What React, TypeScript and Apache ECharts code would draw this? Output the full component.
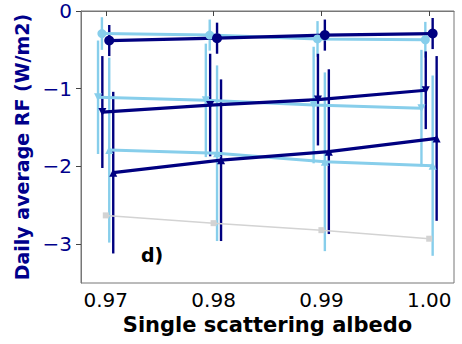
import React, { useEffect, useRef } from "react";
import * as echarts from "echarts";

// x tick positions (single scattering albedo)
const albedoTicks = [0.97, 0.98, 0.99, 1.0];
const rfTicks = [0, -1, -2, -3];

// Series: x (with the small dodge), y, error half-width
const lightCircleX = [0.96964, 0.97964, 0.98964, 0.99964];
const lightCircleY = [-0.29, -0.31, -0.36, -0.37];
const lightCircleE = [0.21, 0.2, 0.23, 0.23];

const lightDownX = [0.96928, 0.97928, 0.98928, 0.99928];
const lightDownY = [-1.11, -1.15, -1.21, -1.25];
const lightDownE = [0.73, 0.73, 0.75, 0.75];

const lightUpX = [0.97032, 0.98032, 0.99032, 1.00032];
const lightUpY = [-1.79, -1.83, -1.94, -1.99];
const lightUpE = [1.19, 1.13, 1.15, 1.16];

const greyX = [0.97, 0.98, 0.99, 1.0];
const greyY = [-2.63, -2.73, -2.82, -2.93];

const darkCircleX = [0.97032, 0.98032, 0.99032, 1.00032];
const darkCircleY = [-0.38, -0.35, -0.31, -0.29];
const darkCircleE = [0.2, 0.2, 0.2, 0.2];

const darkDownX = [0.96968, 0.97968, 0.98968, 0.99968];
const darkDownY = [-1.3, -1.21, -1.14, -1.02];
const darkDownE = [0.72, 0.66, 0.59, 0.5];

const darkUpX = [0.97069, 0.98069, 0.99069, 1.00069];
const darkUpY = [-2.08, -1.92, -1.81, -1.64];
const darkUpE = [1.04, 1.04, 1.06, 1.06];

const NAVY = "#000080";
const SKY = "#87CEEB";
const GREY = "#d3d3d3";
const FONT = "DejaVu Sans";

function zip(xs: number[], ys: number[], es?: number[]) {
  return xs.map((x, i) => (es ? [x, ys[i], es[i]] : [x, ys[i]]));
}

function errSeries(xs: number[], ys: number[], es: number[], color: string) {
  return {
    type: "custom",
    data: zip(xs, ys, es),
    encode: { x: 0, y: 1 },
    silent: true,
    renderItem: (params: any, api: any) => {
      const x = api.value(0);
      const y = api.value(1);
      const e = api.value(2);
      const p1 = api.coord([x, y + e]);
      const p2 = api.coord([x, y - e]);
      return {
        type: "line",
        shape: { x1: p1[0], y1: p1[1], x2: p2[0], y2: p2[1] },
        style: { stroke: color, lineWidth: 2.4 },
      };
    },
  };
}

function lineSeries(
  xs: number[],
  ys: number[],
  color: string,
  symbol: string,
  size: number,
  width: number
) {
  return {
    type: "line",
    data: zip(xs, ys),
    symbol,
    symbolSize: size,
    showSymbol: true,
    lineStyle: { color, width },
    itemStyle: { color, borderWidth: 0 },
    emphasis: { disabled: true },
  };
}

export default function App() {
  const ref = useRef<HTMLDivElement>(null);
  useEffect(() => {
    if (!ref.current) return;
    document.body.style.margin = "0";
    const chart = echarts.init(ref.current, null, { renderer: "svg" });
    const downTri = "path://M0,0 L10,0 L5,9 Z";
    chart.setOption({
      animation: false,
      grid: {
        left: 81,
        right: 8,
        top: 11,
        bottom: 61,
        show: true,
        borderColor: "#777",
        borderWidth: 1,
        backgroundColor: "transparent",
      },
      xAxis: {
        type: "value",
        min: 0.9677,
        max: 1.0023,
        splitLine: { show: false },
        axisLine: { show: true, lineStyle: { color: "#777", width: 1 } },
        axisTick: {
          show: true,
          length: 5,
          customValues: albedoTicks,
          lineStyle: { color: "#444" },
        },
        axisLabel: {
          customValues: albedoTicks,
          formatter: (v: number) => v.toFixed(2),
          fontSize: 20,
          color: "#000",
          fontFamily: FONT,
          margin: 7,
        },
        name: "Single scattering albedo",
        nameLocation: "middle",
        nameGap: 24,
        nameTextStyle: {
          fontWeight: "bold",
          fontSize: 21,
          color: "#000",
          fontFamily: FONT,
        },
      },
      yAxis: {
        type: "value",
        min: -3.5,
        max: 0,
        splitLine: { show: false },
        axisLine: { show: true, lineStyle: { color: "#777", width: 1 } },
        axisTick: {
          show: true,
          length: 5,
          customValues: rfTicks,
          lineStyle: { color: "#444" },
        },
        axisLabel: {
          customValues: rfTicks,
          formatter: (v: number) => (v < 0 ? "\u2212" + Math.abs(v) : String(v)),
          fontSize: 20,
          color: "#00008B",
          fontFamily: FONT,
          margin: 9,
        },
        name: "Daily average RF (W/m2)",
        nameLocation: "middle",
        nameRotate: 90,
        nameGap: 46,
        nameTextStyle: {
          fontWeight: "bold",
          fontSize: 19,
          color: "#00008B",
          fontFamily: FONT,
        },
      },
      graphic: [
        {
          type: "text",
          left: 141,
          top: 245,
          style: {
            text: "d)",
            font: "bold 19px DejaVu Sans",
            fill: "#000",
          },
        },
      ],
      series: [
        lineSeries(greyX, greyY, GREY, "rect", 6, 1.5),
        errSeries(lightCircleX, lightCircleY, lightCircleE, SKY),
        lineSeries(lightCircleX, lightCircleY, SKY, "circle", 9, 3),
        errSeries(lightDownX, lightDownY, lightDownE, SKY),
        lineSeries(lightDownX, lightDownY, SKY, downTri, 8, 3),
        errSeries(lightUpX, lightUpY, lightUpE, SKY),
        lineSeries(lightUpX, lightUpY, SKY, "triangle", 8, 3),
        errSeries(darkCircleX, darkCircleY, darkCircleE, NAVY),
        lineSeries(darkCircleX, darkCircleY, NAVY, "circle", 10, 3.2),
        errSeries(darkDownX, darkDownY, darkDownE, NAVY),
        lineSeries(darkDownX, darkDownY, NAVY, downTri, 8, 3.2),
        errSeries(darkUpX, darkUpY, darkUpE, NAVY),
        lineSeries(darkUpX, darkUpY, NAVY, "triangle", 8, 3.2),
      ],
    });
    return () => chart.dispose();
  }, []);
  return <div ref={ref} style={{ width: 462, height: 344 }} />;
}
